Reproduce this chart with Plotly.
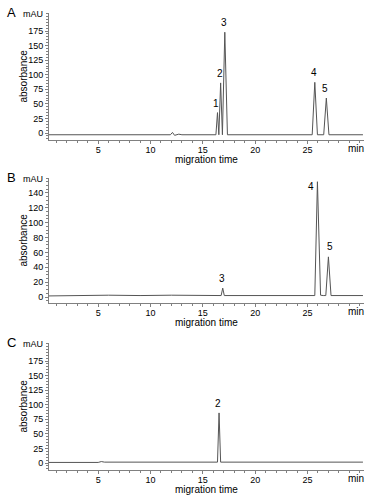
import plotly.graph_objects as go

# ---- data ----
A_time = [0.3, 11.9, 12.1, 12.3, 12.7, 13.0, 16.25, 16.4, 16.53, 16.7, 16.87, 17.1, 17.35,
          25.45, 25.7, 25.95, 26.55, 26.8, 27.05, 30.3]
A_abs = [-3, -3, 1, -4, -2, -3, -3, 35, -3, 86, -3, 173, -3,
         -3, 87, -3, -3, 60, -3, -3]

B_time = [0.3, 3.0, 5.5, 6.0, 9.0, 11.5, 12.0, 16.75, 16.9, 17.05, 19.5,
          25.7, 25.95, 26.25, 26.5, 26.75, 27.0, 27.25, 30.3]
B_abs = [1.5, 2, 1.5, 2.5, 2, 3, 2.5, 2, 12, 2, 2,
         2, 155, 2.5, 2, 2, 54, 2, 2]

C_time = [0.3, 5.0, 5.3, 5.6, 16.4, 16.55, 16.7, 30.3]
C_abs = [1, 1, 2.5, 1.5, 1.5, 86, 1.5, 1.5]

A_peaks = [("1", 16.4, 35), ("2", 16.7, 86), ("3", 17.1, 173), ("4", 25.7, 87), ("5", 26.8, 60)]
B_peaks = [("3", 16.9, 12), ("4", 25.95, 155), ("5", 27.0, 54)]
C_peaks = [("2", 16.55, 86)]

A_yticks = [0, 25, 50, 75, 100, 125, 150, 175]
B_yticks = [0, 20, 40, 60, 80, 100, 120, 140]
C_yticks = [0, 25, 50, 75, 100, 125, 150, 175]
x_ticks = [5, 10, 15, 20, 25]

panels = [
    ("A", A_time, A_abs, A_peaks, A_yticks, [-12, 206], [0.72, 0.974], 5),
    ("B", B_time, B_abs, B_peaks, B_yticks, [-8, 160], [0.394, 0.644], 5),
    ("C", C_time, C_abs, C_peaks, C_yticks, [-12, 206], [0.06, 0.314], 5),
]

W, H = 373, 500
FONT = "Liberation Sans, Arial, sans-serif"
TXT = "#000000"
AXC = "#808080"
xdom = [49 / W, 364 / W]

fig = go.Figure()
layout = dict(
    width=W, height=H, margin=dict(l=0, r=0, t=0, b=0),
    paper_bgcolor="white", plot_bgcolor="white", showlegend=False,
    font=dict(family=FONT, size=9, color=TXT),
)
annotations = []

for i, (letter, t, a, peaks, yt, yr, ydom, ymin) in enumerate(panels):
    n = "" if i == 0 else str(i + 1)
    xa, ya = "x" + n, "y" + n
    fig.add_trace(go.Scatter(x=t, y=a, mode="lines", xaxis=xa, yaxis=ya,
                             line=dict(color="#555555", width=1), hoverinfo="skip"))
    layout["xaxis" + n] = dict(
        domain=xdom, anchor=ya, range=[0.3, 30.4], tickvals=x_ticks,
        showgrid=False, zeroline=False, showline=True, linecolor=AXC, linewidth=1,
        ticks="outside", ticklen=3, tickcolor=AXC, tickfont=dict(size=9, color=TXT),
        ticklabelstandoff=-2,
        minor=dict(dtick=1, tick0=0, ticks="outside", ticklen=2, tickcolor=AXC),
    )
    layout["yaxis" + n] = dict(
        domain=ydom, anchor=xa, range=yr, tickvals=yt,
        showgrid=False, zeroline=False, showline=True, linecolor=AXC, linewidth=1,
        ticks="outside", ticklen=3, tickcolor=AXC, tickfont=dict(size=9, color=TXT),
        minor=dict(dtick=ymin, tick0=0, ticks="outside", ticklen=2, tickcolor=AXC),
    )
    top_px = (1 - ydom[1]) * H
    bot_px = (1 - ydom[0]) * H
    # panel letter
    annotations.append(dict(text=letter, xref="paper", yref="paper", x=5 / W,
                            y=1 - (top_px - 1) / H, xanchor="left", yanchor="middle",
                            showarrow=False, font=dict(size=13, color=TXT)))
    # mAU
    annotations.append(dict(text="mAU", xref="paper", yref="paper", x=45 / W,
                            y=1 - (top_px + 1) / H, xanchor="right", yanchor="middle",
                            showarrow=False, font=dict(size=9, color=TXT)))
    # absorbance
    annotations.append(dict(text="absorbance", xref="paper", yref="paper", x=23 / W,
                            y=(ydom[0] + ydom[1]) / 2, xanchor="center", yanchor="middle",
                            textangle=-90, showarrow=False, font=dict(size=10, color=TXT)))
    # migration time
    annotations.append(dict(text="migration time", xref="paper", yref="paper",
                            x=(xdom[0] + xdom[1]) / 2, y=1 - (bot_px + 19) / H,
                            xanchor="center", yanchor="middle",
                            showarrow=False, font=dict(size=10, color=TXT)))
    # min
    annotations.append(dict(text="min", xref="paper", yref="paper", x=366 / W,
                            y=1 - (bot_px + 8) / H, xanchor="right", yanchor="middle",
                            showarrow=False, font=dict(size=10, color=TXT)))
    # peak labels
    for lab, px, py in peaks:
        xs, ys = -1, 2
        if letter == "B" and lab == "4":
            xs, ys = -6, -12
        if letter == "B" and lab == "5":
            xs, ys = 2, 3
        annotations.append(dict(text=lab, x=px, y=py, xref=xa, yref=ya,
                                xanchor="center", yanchor="bottom", xshift=xs, yshift=ys,
                                showarrow=False, font=dict(size=10, color=TXT)))

layout["annotations"] = annotations
fig.update_layout(**layout)
fig.write_html("out.html", config={"displayModeBar": False},
               post_script="document.body.style.margin='0';document.body.style.overflow='hidden';")
